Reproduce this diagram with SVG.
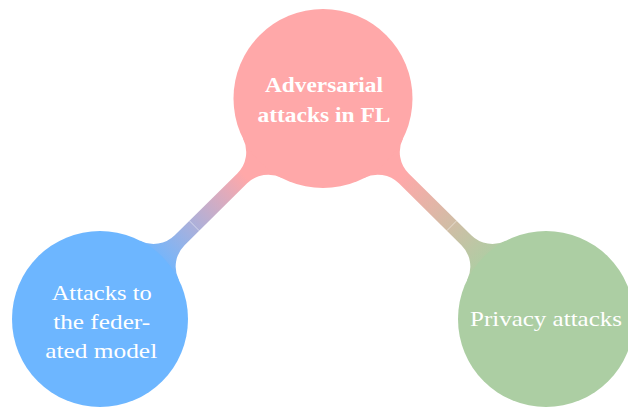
<svg xmlns="http://www.w3.org/2000/svg" width="628" height="410" viewBox="0 0 628 410">
  <style>
    .t { font-family: "Liberation Serif", "Times New Roman", serif; font-size: 21px; fill: #ffffff; text-anchor: middle; }
    .b { font-weight: bold; }
    .seam { stroke: #ffffff; stroke-opacity: 0.55; stroke-width: 0.9; fill: none; }
  </style>
  <defs>
    <linearGradient id="gL" gradientUnits="userSpaceOnUse" x1="244.8" y1="175.8" x2="155.9" y2="263.7">
      <stop offset="0" stop-color="#ffa8a9"/>
      <stop offset="1" stop-color="#6db6ff"/>
    </linearGradient>
    <linearGradient id="gR" gradientUnits="userSpaceOnUse" x1="401.2" y1="175.8" x2="490.1" y2="263.7">
      <stop offset="0" stop-color="#ffa8a9"/>
      <stop offset="1" stop-color="#accea3"/>
    </linearGradient>
  </defs>
  <rect width="628" height="410" fill="#ffffff"/>
  <g id="connectors">
    <path fill="url(#gL)" d="M281.98,178.03 A30,30 0 0 0 247.14,183.35 L184.56,245.23 A30,30 0 0 0 178.79,279.89 L100,319 L140.0,240.65 A30,30 0 0 0 174.72,235.27 L237.30,173.39 A30,30 0 0 0 243.02,138.61 L323,98.5 Z"/>
    <path fill="url(#gR)" d="M364.02,178.03 A30,30 0 0 1 398.86,183.35 L461.44,245.23 A30,30 0 0 1 467.21,279.89 L546,319 L506.0,240.65 A30,30 0 0 1 471.28,235.27 L408.70,173.39 A30,30 0 0 1 402.98,138.61 L323,98.5 Z"/>
    <line class="seam" x1="199.21" y1="230.74" x2="189.37" y2="220.78"/>
    <line class="seam" x1="446.79" y1="230.74" x2="456.63" y2="220.78"/>
  </g>
  <g id="node-root">
    <circle cx="323" cy="98.5" r="89.5" fill="#ffa8a9"/>
    <text class="t b" x="324" y="92" textLength="118" lengthAdjust="spacingAndGlyphs">Adversarial</text>
    <text class="t b" x="324" y="122" textLength="133" lengthAdjust="spacingAndGlyphs">attacks in FL</text>
  </g>
  <g id="node-model">
    <circle cx="100" cy="319" r="88" fill="#6db6ff"/>
    <text class="t" x="101.7" y="300" textLength="100" lengthAdjust="spacingAndGlyphs">Attacks to</text>
    <text class="t" x="101.7" y="329.3" textLength="97" lengthAdjust="spacingAndGlyphs">the feder-</text>
    <text class="t" x="101.2" y="358.3" textLength="112" lengthAdjust="spacingAndGlyphs">ated model</text>
  </g>
  <g id="node-privacy">
    <circle cx="546" cy="319" r="88" fill="#accea3"/>
    <text class="t" x="546" y="326" textLength="152" lengthAdjust="spacingAndGlyphs">Privacy attacks</text>
  </g>
</svg>
